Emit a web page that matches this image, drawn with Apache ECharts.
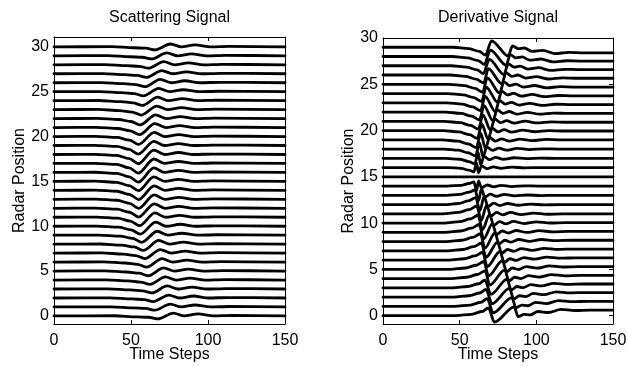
<!DOCTYPE html>
<html>
<head>
<meta charset="utf-8">
<script src="https://cdn.jsdelivr.net/npm/echarts@6/dist/echarts.min.js"></script>
<style>html,body{margin:0;padding:0;background:#fff}#c{width:627px;height:366px}</style>
</head>
<body>
<div id="c"></div>
<script>
// ---- data ----
const timeTicks = [0, 50, 100, 150];
const positionTicks = [0, 5, 10, 15, 20, 25, 30];
const scatterTitle = 'Scattering Signal';
const derivTitle = 'Derivative Signal';

// Scattering signal: one trace per radar position 0..30, points [time, offset from position]
const scatterPositions = [0,1,2,3,4,5,6,7,8,9,10,11,12,13,14,15,16,17,18,19,20,21,22,23,24,25,26,27,28,29,30];
const scatterTraces = [
  [[0,0],[39.5,.02],[53.5,-.1],[61.5,-.15],[67.5,-.33],[77.5,.32],[84.5,0],[93.5,.22],[103.5,0],[115.5,.05],[150,0]],
  [[0,0],[37.5,.02],[51.5,-.1],[59.5,-.16],[65.5,-.36],[75.5,.32],[82.5,0],[91.5,.22],[101.5,0],[113.5,.05],[150,0]],
  [[0,0],[36.5,.02],[50.5,-.1],[58.5,-.18],[64.5,-.4],[74.5,.33],[81.5,0],[90.5,.22],[100.5,0],[112.5,.05],[150,0]],
  [[0,0],[35.5,.02],[49.5,-.1],[57.5,-.2],[63.5,-.44],[73.5,.34],[80.5,0],[89.5,.22],[99.5,0],[111.5,.05],[150,0]],
  [[0,0],[34.3,.02],[48.3,-.1],[56.3,-.22],[62.3,-.48],[72.3,.35],[79.3,0],[88.3,.22],[98.3,0],[110.3,.05],[150,0]],
  [[0,0],[33.2,.02],[47.2,-.1],[55.2,-.23],[61.2,-.52],[71.2,.36],[78.2,0],[87.2,.22],[97.2,0],[109.2,.05],[150,0]],
  [[0,0],[32.2,.02],[46.2,-.1],[54.2,-.25],[60.2,-.56],[70.2,.38],[77.2,0],[86.2,.22],[96.2,0],[108.2,.05],[150,0]],
  [[0,0],[31,.02],[45,-.1],[53,-.27],[59,-.61],[69,.4],[76,0],[85,.22],[95,0],[107,.05],[150,0]],
  [[0,0],[30,.02],[44,-.1],[52,-.31],[58,-.7],[68,.42],[75,0],[84,.22],[94,0],[106,.05],[150,0]],
  [[0,0],[29,.02],[43,-.1],[51,-.36],[57,-.8],[67,.44],[74,0],[83,.22],[93,0],[105,.05],[150,0]],
  [[0,0],[28,.02],[42,-.1],[50,-.4],[56,-.88],[66,.46],[73,0],[82,.22],[92,0],[104,.05],[150,0]],
  [[0,0],[27.5,.02],[41.5,-.1],[49.5,-.42],[55.5,-.94],[65.5,.48],[72.5,0],[81.5,.22],[91.5,0],[103.5,.05],[150,0]],
  [[0,0],[27,.02],[41,-.1],[49,-.44],[55,-.98],[65,.5],[72,0],[81,.22],[91,0],[103,.05],[150,0]],
  [[0,0],[27,.02],[41,-.1],[49,-.45],[55,-1],[65,.5],[72,0],[81,.22],[91,0],[103,.05],[150,0]],
  [[0,0],[27,.02],[41,-.1],[49,-.46],[55,-1.02],[65,.5],[72,0],[81,.22],[91,0],[103,.05],[150,0]],
  [[0,0],[26.8,.02],[40.8,-.1],[48.8,-.47],[54.8,-1.04],[64.8,.5],[71.8,0],[80.8,.22],[90.8,0],[102.8,.05],[150,0]],
  [[0,0],[26.8,.02],[40.8,-.1],[48.8,-.49],[54.8,-1.08],[64.8,.5],[71.8,0],[80.8,.22],[90.8,0],[102.8,.05],[150,0]],
  [[0,0],[26.8,.02],[40.8,-.1],[48.8,-.49],[54.8,-1.08],[64.8,.5],[71.8,0],[80.8,.22],[90.8,0],[102.8,.05],[150,0]],
  [[0,0],[26.8,.02],[40.8,-.1],[48.8,-.46],[54.8,-1.03],[64.8,.49],[71.8,0],[80.8,.22],[90.8,0],[102.8,.05],[150,0]],
  [[0,0],[26.8,.02],[40.8,-.1],[48.8,-.43],[54.8,-.96],[64.8,.47],[71.8,0],[80.8,.22],[90.8,0],[102.8,.05],[150,0]],
  [[0,0],[27,.02],[41,-.1],[49,-.4],[55,-.88],[65,.46],[72,0],[81,.22],[91,0],[103,.05],[150,0]],
  [[0,0],[27.5,.02],[41.5,-.1],[49.5,-.36],[55.5,-.79],[65.5,.44],[72.5,0],[81.5,.22],[91.5,0],[103.5,.05],[150,0]],
  [[0,0],[28,.02],[42,-.1],[50,-.32],[56,-.7],[66,.42],[73,0],[82,.22],[92,0],[104,.05],[150,0]],
  [[0,0],[28.7,.02],[42.7,-.1],[50.7,-.27],[56.7,-.6],[66.7,.4],[73.7,0],[82.7,.22],[92.7,0],[104.7,.05],[150,0]],
  [[0,0],[29.3,.02],[43.3,-.1],[51.3,-.24],[57.3,-.53],[67.3,.39],[74.3,0],[83.3,.22],[93.3,0],[105.3,.05],[150,0]],
  [[0,0],[30,.02],[44,-.1],[52,-.21],[58,-.47],[68,.38],[75,0],[84,.22],[94,0],[106,.05],[150,0]],
  [[0,0],[31,.02],[45,-.1],[53,-.2],[59,-.44],[69,.37],[76,0],[85,.22],[95,0],[107,.05],[150,0]],
  [[0,0],[32,.02],[46,-.1],[54,-.18],[60,-.41],[70,.36],[77,0],[86,.22],[96,0],[108,.05],[150,0]],
  [[0,0],[33.3,.02],[47.3,-.1],[55.3,-.17],[61.3,-.38],[71.3,.35],[78.3,0],[87.3,.22],[97.3,0],[109.3,.05],[150,0]],
  [[0,0],[35.3,.02],[49.3,-.1],[57.3,-.16],[63.3,-.35],[73.3,.33],[80.3,0],[89.3,.22],[99.3,0],[111.3,.05],[150,0]],
  [[0,0],[37.6,.02],[51.6,-.1],[59.6,-.15],[65.6,-.33],[75.6,.32],[82.6,0],[91.6,.22],[101.6,0],[113.6,.05],[150,0]]
];

// Derivative signal: one trace per radar position 0..29
const derivPositions = [0,1,2,3,4,5,6,7,8,9,10,11,12,13,14,15,16,17,18,19,20,21,22,23,24,25,26,27,28,29];
const derivTraces = [
  [[0,0],[47.7,0],[57.7,.15],[64.7,.45],[68.7,.85],[72.7,-.7],[85.5,.95],[88.2,-.12],[92,.15],[96,.08],[101,.45],[108,.34],[116,.68],[125,.56],[135,.6],[150,.6]],
  [[0,0],[46.9,0],[56.9,.15],[63.9,.45],[67.9,.85],[71.9,-.7],[84,.95],[86.7,-.15],[90.5,.15],[94.5,.07],[99.5,.43],[106.5,.31],[114.5,.63],[123.5,.51],[133.5,.55],[150,.55]],
  [[0,0],[46.1,0],[56.1,.15],[63.1,.45],[67.1,.85],[71.1,-.7],[82.5,.95],[85.2,-.2],[89,.15],[93,.05],[98,.4],[105,.27],[113,.58],[122,.46],[132,.5],[150,.5]],
  [[0,0],[45.4,0],[55.4,.15],[62.4,.45],[66.4,.85],[70.4,-.7],[80.9,.95],[83.6,-.22],[87.4,.15],[91.4,.03],[96.4,.36],[103.4,.21],[111.4,.5],[120.4,.38],[130.4,.42],[150,.42]],
  [[0,0],[44.6,0],[54.6,.15],[61.6,.45],[66.6,.85],[69.6,-.7],[79.4,.95],[82.1,-.25],[85.9,.15],[89.9,0],[94.9,.33],[101.9,.17],[109.9,.43],[118.9,.31],[128.9,.35],[150,.35]],
  [[0,0],[43.8,0],[53.8,.15],[60.8,.45],[65.8,.85],[68.8,-.7],[77.9,.95],[80.6,-.25],[84.4,.15],[88.4,-.01],[93.4,.3],[100.4,.13],[108.4,.38],[117.4,.26],[127.4,.3],[150,.3]],
  [[0,0],[43,0],[53,.15],[60,.45],[65,.85],[68,-.7],[76.3,.95],[79,-.25],[82.8,.15],[86.8,-.03],[91.8,.28],[98.8,.1],[106.8,.33],[115.8,.21],[125.8,.25],[150,.25]],
  [[0,0],[42.2,0],[52.2,.15],[59.2,.45],[64.2,.85],[67.2,-.7],[74.7,.95],[77.4,-.25],[81.2,.15],[85.2,-.04],[90.2,.25],[97.2,.06],[105.2,.28],[114.2,.16],[124.2,.2],[150,.2]],
  [[0,0],[41.5,0],[51.5,.15],[58.5,.45],[63.5,.85],[66.5,-.7],[73,.95],[75.7,-.25],[79.5,.15],[83.5,-.06],[88.5,.23],[95.5,.03],[103.5,.23],[112.5,.11],[122.5,.15],[150,.15]],
  [[0,0],[40.7,0],[50.7,.15],[57.7,.45],[62.7,.85],[65.7,-.7],[71.3,.95],[74,-.25],[77.8,.15],[81.8,-.07],[86.8,.2],[93.8,-.01],[101.8,.18],[110.8,.06],[120.8,.1],[150,.1]],
  [[0,0],[39.9,0],[49.9,.15],[56.9,.45],[61.9,.85],[64.9,-.7],[69.5,.95],[72.2,-.25],[76,.15],[80,-.09],[85,.18],[92,-.05],[100,.13],[109,.01],[119,.05],[150,.05]],
  [[0,0],[39.1,0],[49.1,.15],[56.1,.45],[61.1,.85],[64.1,-.7],[67.6,.95],[70.3,-.25],[74.1,.15],[78.1,-.1],[83.1,.15],[90.1,-.08],[98.1,.08],[107.1,-.04],[117.1,0],[150,0]],
  [[0,0],[40.2,0],[49.2,.12],[55.7,.4],[60.5,.75],[63.2,-.66],[65.9,.85],[68.5,-.22],[72.2,.15],[76.2,-.1],[81.2,.12],[88.2,-.07],[96.2,.05],[105.2,-.03],[115.2,0],[150,0]],
  [[0,0],[41.2,0],[50.2,.1],[56.2,.35],[60,.6],[62.3,-.6],[64.2,.72],[66.3,-.2],[70,.14],[74,-.1],[79,.1],[86,-.06],[94,.04],[103,-.02],[113,0],[150,0]],
  [[0,0],[42,0],[51,.08],[56,.28],[59.3,.45],[61,-.5],[62.3,.55],[64.2,-.18],[68,.12],[72,-.08],[77,.08],[84,-.05],[92,.03],[102,0],[150,0]],
  [[0,0],[150,0]],
  [[0,0],[42,0],[51,-.08],[56,-.28],[59.3,-.45],[61,.5],[62.3,-.55],[64.2,.18],[68,-.12],[72,.08],[77,-.08],[84,.05],[92,-.03],[102,0],[150,0]],
  [[0,0],[41,0],[50,-.1],[56,-.35],[59.8,-.6],[62.1,.6],[63.7,-.72],[65.8,.2],[69.5,-.14],[73.5,.1],[78.5,-.1],[85.5,.06],[93.5,-.04],[102.5,.02],[112.5,0],[150,0]],
  [[0,0],[40,0],[49,-.12],[55.5,-.4],[60.3,-.75],[63,.66],[65.2,-.85],[67.8,.22],[71.5,-.15],[75.5,.1],[80.5,-.12],[87.5,.07],[95.5,-.05],[104.5,.03],[114.5,0],[150,0]],
  [[0,0],[38.8,0],[48.8,-.15],[55.8,-.45],[60.8,-.85],[63.8,.7],[66.8,-.95],[69.5,.25],[73.3,-.15],[77.3,.1],[82.3,-.15],[89.3,.08],[97.3,-.08],[106.3,.04],[116.3,0],[150,0]],
  [[0,0],[39.5,0],[49.5,-.15],[56.5,-.45],[61.5,-.85],[64.5,.7],[68.5,-.95],[71.2,.25],[75,-.15],[79,.09],[84,-.18],[91,.05],[99,-.13],[108,-.01],[118,-.05],[150,-.05]],
  [[0,0],[40.2,0],[50.2,-.15],[57.2,-.45],[62.2,-.85],[65.2,.7],[70.1,-.95],[72.8,.25],[76.6,-.15],[80.6,.07],[85.6,-.2],[92.6,.01],[100.6,-.18],[109.6,-.06],[119.6,-.1],[150,-.1]],
  [[0,0],[40.9,0],[50.9,-.15],[57.9,-.45],[62.9,-.85],[65.9,.7],[71.7,-.95],[74.4,.25],[78.2,-.15],[82.2,.06],[87.2,-.23],[94.2,-.03],[102.2,-.23],[111.2,-.11],[121.2,-.15],[150,-.15]],
  [[0,0],[41.6,0],[51.6,-.15],[58.6,-.45],[63.6,-.85],[66.6,.7],[73.2,-.95],[75.9,.25],[79.7,-.15],[83.7,.04],[88.7,-.25],[95.7,-.06],[103.7,-.28],[112.7,-.16],[122.7,-.2],[150,-.2]],
  [[0,0],[42.3,0],[52.3,-.15],[59.3,-.45],[64.3,-.85],[67.3,.7],[74.7,-.95],[77.4,.25],[81.2,-.15],[85.2,.03],[90.2,-.28],[97.2,-.1],[105.2,-.33],[114.2,-.21],[124.2,-.25],[150,-.25]],
  [[0,0],[43,0],[53,-.15],[60,-.45],[65,-.85],[68,.7],[76.1,-.95],[78.8,.25],[82.6,-.15],[86.6,.01],[91.6,-.3],[98.6,-.13],[106.6,-.38],[115.6,-.26],[125.6,-.3],[150,-.3]],
  [[0,0],[43.7,0],[53.7,-.15],[60.7,-.45],[65.7,-.85],[68.7,.7],[77.5,-.95],[80.2,.25],[84,-.15],[88,0],[93,-.33],[100,-.17],[108,-.43],[117,-.31],[127,-.35],[150,-.35]],
  [[0,0],[44.4,0],[54.4,-.15],[61.4,-.45],[65.4,-.85],[69.4,.7],[78.9,-.95],[81.6,.22],[85.4,-.15],[89.4,-.03],[94.4,-.36],[101.4,-.21],[109.4,-.5],[118.4,-.38],[128.4,-.42],[150,-.42]],
  [[0,0],[45.1,0],[55.1,-.15],[62.1,-.45],[66.1,-.85],[70.1,.7],[80.3,-.95],[83,.2],[86.8,-.15],[90.8,-.05],[95.8,-.4],[102.8,-.27],[110.8,-.58],[119.8,-.46],[129.8,-.5],[150,-.5]],
  [[0,0],[45.8,0],[55.8,-.15],[62.8,-.45],[66.8,-.85],[70.8,.7],[81.7,-.95],[84.4,.15],[88.2,-.15],[92.2,-.08],[97.2,-.45],[104.2,-.34],[112.2,-.68],[121.2,-.56],[131.2,-.6],[150,-.6]]
];

// ---- chart ----
const FONT = 'Liberation Sans, Arial, Helvetica, sans-serif';
const chart = echarts.init(document.getElementById('c'), null, {renderer: 'canvas'});

function traceSeries(positions, traces, axisIdx) {
  return traces.map((pts, i) => ({
    type: 'line',
    xAxisIndex: axisIdx, yAxisIndex: axisIdx,
    data: pts.map(p => [p[0], positions[i] + p[1]]),
    smooth: 0.3, smoothMonotone: 'x',
    showSymbol: false, symbol: 'none', silent: true,
    lineStyle: {color: '#000', width: 2.8, cap: 'round', join: 'round'},
    z: 3
  }));
}

function xAx(gridIndex, pos, showLabel) {
  return {
    type: 'value', gridIndex, position: pos, min: 0, max: 150, interval: 50,
    axisLine: {show: true, onZero: false, lineStyle: {color: '#000', width: 1}},
    axisTick: {show: true, inside: true, length: 4, lineStyle: {color: '#000'}},
    axisLabel: {show: showLabel, color: '#000', fontSize: 16, fontFamily: FONT, margin: 9},
    splitLine: {show: false},
    name: showLabel ? 'Time Steps' : '', nameLocation: 'middle', nameGap: 23, nameMoveOverlap: false,
    nameTextStyle: {color: '#000', fontSize: 16, fontFamily: FONT}
  };
}
function yAx(gridIndex, pos, showLabel, max) {
  return {
    type: 'value', gridIndex, position: pos, min: -0.9, max: max,
    axisLine: {show: true, onZero: false, lineStyle: {color: '#000', width: 1}},
    axisTick: {show: true, inside: true, length: 4, lineStyle: {color: '#000'}, customValues: positionTicks},
    axisLabel: {show: showLabel, color: '#000', fontSize: 16, fontFamily: FONT, margin: 5, customValues: positionTicks},
    splitLine: {show: false},
    name: showLabel ? 'Radar Position' : '', nameLocation: 'middle', nameGap: 24, nameRotate: 90,
    nameTextStyle: {color: '#000', fontSize: 16, fontFamily: FONT}
  };
}

const option = {
  animation: false,
  backgroundColor: '#fff',
  grid: [
    {left: 54, top: 37, width: 231, height: 287, show: false, containLabel: false, outerBoundsMode: 'none'},
    {left: 383, top: 38, width: 230, height: 286, show: false, containLabel: false, outerBoundsMode: 'none'}
  ],
  xAxis: [xAx(0, 'bottom', true), xAx(1, 'bottom', true), xAx(0, 'top', false), xAx(1, 'top', false)],
  yAxis: [yAx(0, 'left', true, 31.1), yAx(1, 'left', true, 30), yAx(0, 'right', false, 31.1), yAx(1, 'right', false, 30)],
  graphic: [
    {type: 'text', x: 169.5, y: 18, style: {text: scatterTitle, align: 'center', verticalAlign: 'middle', fontSize: 16, fontFamily: FONT, fill: '#000'}},
    {type: 'text', x: 498, y: 18, style: {text: derivTitle, align: 'center', verticalAlign: 'middle', fontSize: 16, fontFamily: FONT, fill: '#000'}}
  ],
  series: [].concat(
    traceSeries(scatterPositions, scatterTraces, 0),
    traceSeries(derivPositions, derivTraces, 1)
  )
};
chart.setOption(option);
</script>
</body>
</html>
